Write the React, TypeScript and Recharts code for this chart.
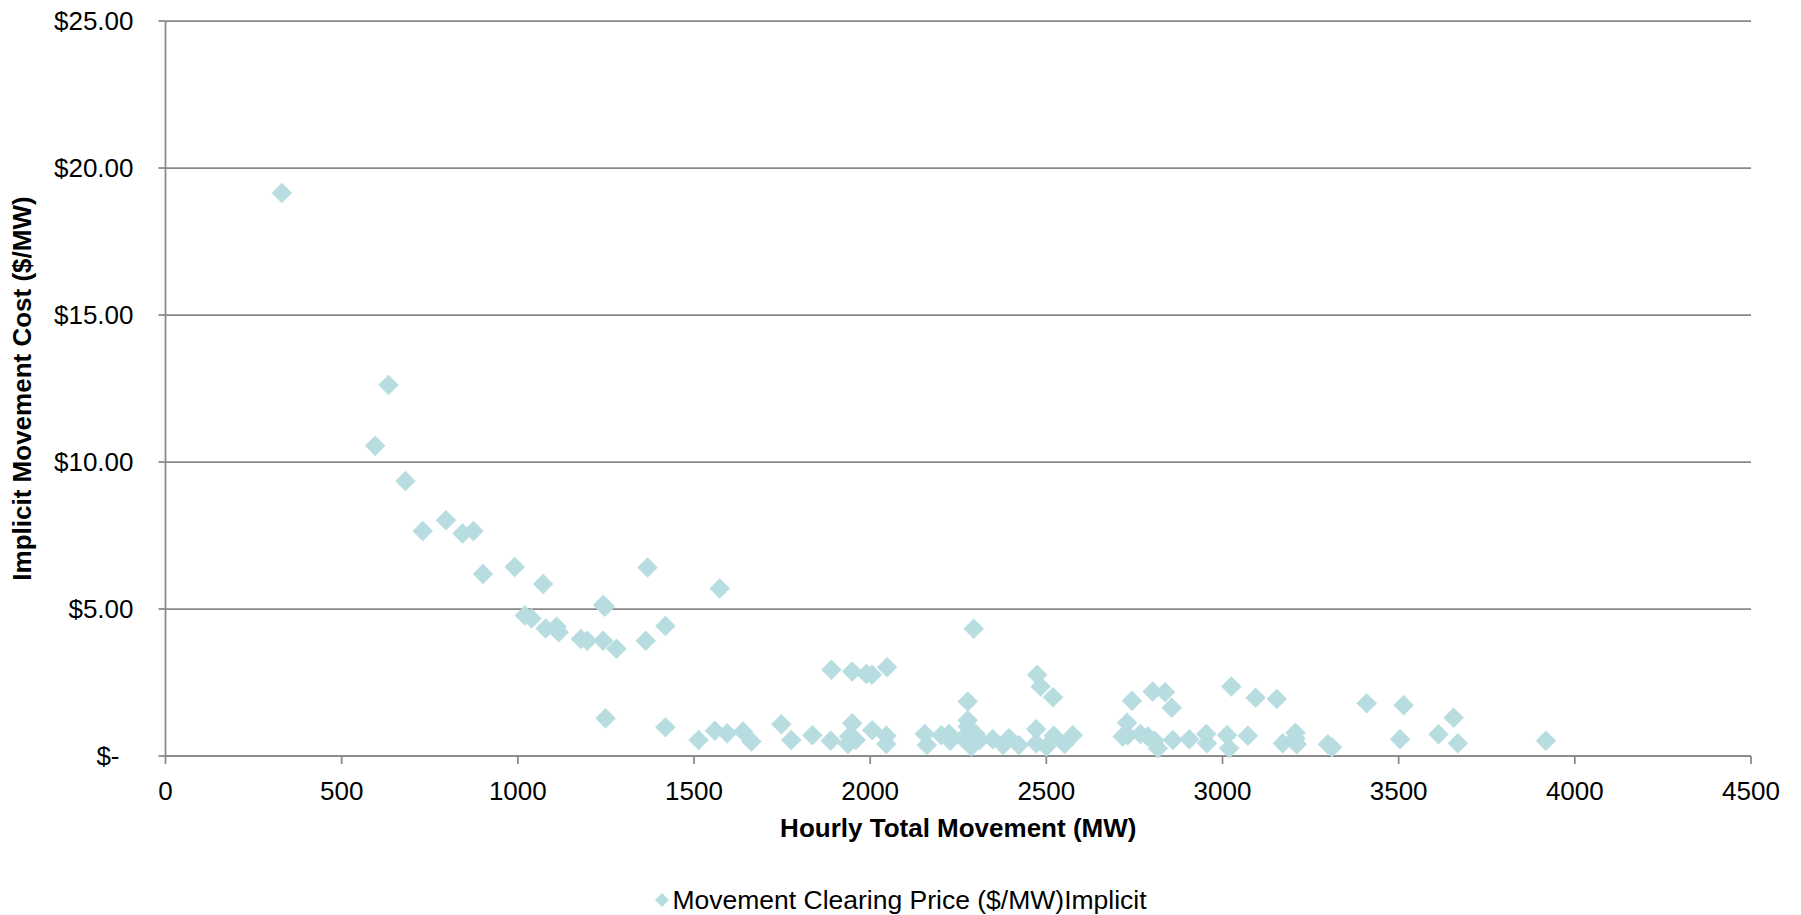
import { ScatterChart, Scatter, XAxis, YAxis, CartesianGrid, Label } from 'recharts';

// hourly total movement (MW) and implicit movement cost ($/MW), read point by point
const movementMw = [
  330, 595, 633, 681, 730, 796, 843, 874, 901, 991,
  1020, 1039, 1072, 1079, 1110, 1116, 1179, 1197, 1242, 1247,
  1242, 1249, 1280, 1363, 1368, 1419, 1419, 1513, 1559, 1573,
  1594, 1639, 1663, 1748, 1776, 1836, 1888, 1890, 1937, 1940,
  1949, 1949, 1959, 1989, 2005, 2006, 2046, 2046, 2048, 2155,
  2161, 2202, 2224, 2227, 2263, 2277, 2277, 2277, 2287, 2294,
  2299, 2311, 2348, 2377, 2394, 2422, 2471, 2471, 2474, 2484,
  2500, 2519, 2521, 2552, 2575, 2717, 2729, 2731, 2743, 2767,
  2788, 2802, 2807, 2817, 2837, 2856, 2859, 2906, 2954, 2956,
  3013, 3019, 3025, 3072, 3094, 3154, 3171, 3207, 3207, 3211,
  3299, 3311, 3409, 3504, 3514, 3613, 3656, 3668, 3918,
];

const implicitCost = [
  19.15, 10.55, 12.62, 9.35, 7.65, 8.02, 7.57, 7.65, 6.19, 6.43,
  4.78, 4.68, 5.85, 4.34, 4.4, 4.21, 3.98, 3.92, 5.14, 5.08,
  3.92, 1.28, 3.65, 3.92, 6.41, 4.42, 0.98, 0.54, 0.86, 5.7,
  0.77, 0.83, 0.49, 1.08, 0.54, 0.71, 0.52, 2.93, 0.41, 0.66,
  2.87, 1.11, 0.54, 2.79, 2.76, 0.88, 0.69, 0.41, 3.02, 0.75,
  0.37, 0.71, 0.75, 0.52, 0.6, 1.85, 1.22, 1.0, 0.32, 4.33,
  0.75, 0.54, 0.57, 0.37, 0.6, 0.37, 0.91, 0.43, 2.76, 2.36,
  0.32, 2.0, 0.69, 0.41, 0.71, 0.66, 1.13, 0.71, 1.88, 0.75,
  0.66, 2.19, 0.52, 0.26, 2.17, 1.64, 0.54, 0.57, 0.75, 0.43,
  0.71, 0.26, 2.36, 0.69, 1.98, 1.94, 0.43, 0.79, 0.6, 0.4,
  0.4, 0.3, 1.79, 0.57, 1.73, 0.74, 1.3, 0.43, 0.52,
];

const xTicks = [0, 500, 1000, 1500, 2000, 2500, 3000, 3500, 4000, 4500];
const yTicks = [0, 5, 10, 15, 20, 25];

const seriesName = 'Movement Clearing Price ($/MW)Implicit';

const points = movementMw.map((mw, i) => ({ mw, cost: implicitCost[i] }));

const MARKER = '#b7dde0';
const GRID = '#888888';
const FONT = '"Liberation Sans", Arial, sans-serif';

const Diamond = (props: any) => {
  const { cx, cy } = props;
  const r = 10;
  return (
    <path
      d={`M${cx},${cy - r}L${cx + r},${cy}L${cx},${cy + r}L${cx - r},${cy}Z`}
      fill={MARKER}
      stroke={MARKER}
      strokeWidth={0.5}
    />
  );
};

const YTick = (props: any) => {
  const { x, y, payload } = props;
  const v = payload.value;
  const label = v === 0 ? '$-' : `$${v.toFixed(2)}`;
  return (
    <text x={v === 0 ? x - 14 : x} y={y} dy="0.355em" textAnchor="end" fill="#000" fontSize={26}>
      {label}
    </text>
  );
};

const XTitle = (props: any) => {
  const { viewBox } = props;
  return (
    <text
      x={viewBox.x + viewBox.width / 2}
      y={viewBox.y + 72}
      dy="0.355em"
      textAnchor="middle"
      fontSize={26}
      fontWeight="bold"
      fill="#000"
    >
      Hourly Total Movement (MW)
    </text>
  );
};

const YTitle = (props: any) => {
  const { viewBox } = props;
  const cx = viewBox.x + 22;
  const cy = viewBox.y + viewBox.height / 2;
  return (
    <text
      x={cx}
      y={cy}
      dy="0.355em"
      textAnchor="middle"
      fontSize={26}
      fontWeight="bold"
      fill="#000"
      transform={`rotate(-90 ${cx} ${cy})`}
    >
      Implicit Movement Cost ($/MW)
    </text>
  );
};

export default function App() {
  return (
    <div
      style={{
        position: 'relative',
        width: 1801,
        height: 915,
        margin: '-8px 0 0 -8px',
        fontFamily: FONT,
        background: '#fff',
      }}
    >
      <ScatterChart width={1801} height={915} margin={{ top: 21, right: 50, bottom: 59, left: 0 }}>
        <CartesianGrid horizontal vertical={false} stroke={GRID} strokeWidth={1.75} />
        <XAxis
          type="number"
          dataKey="mw"
          domain={[0, 4500]}
          ticks={xTicks}
          height={100}
          tickSize={8}
          tickMargin={18}
          axisLine={{ stroke: GRID, strokeWidth: 1.75 }}
          tickLine={{ stroke: GRID, strokeWidth: 1.75 }}
          tick={{ fill: '#000', fontSize: 26 }}
        >
          <Label content={<XTitle />} />
        </XAxis>
        <YAxis
          type="number"
          dataKey="cost"
          domain={[0, 25]}
          ticks={yTicks}
          width={165.5}
          tickSize={7}
          tickMargin={25}
          axisLine={{ stroke: GRID, strokeWidth: 1.75 }}
          tickLine={{ stroke: GRID, strokeWidth: 1.75 }}
          tick={<YTick />}
        >
          <Label content={<YTitle />} />
        </YAxis>
        <Scatter name={seriesName} data={points} shape={<Diamond />} isAnimationActive={false} />
      </ScatterChart>
      <div
        style={{
          position: 'absolute',
          top: 885,
          left: 0,
          width: 1801,
          display: 'flex',
          justifyContent: 'center',
          alignItems: 'center',
          fontSize: 26.5,
          color: '#000',
          lineHeight: '30px',
        }}
      >
        <svg width={16} height={16} style={{ marginRight: 2 }}>
          <path d="M8,1L15,8L8,15L1,8Z" fill={MARKER} />
        </svg>
        <span>{seriesName}</span>
      </div>
    </div>
  );
}
